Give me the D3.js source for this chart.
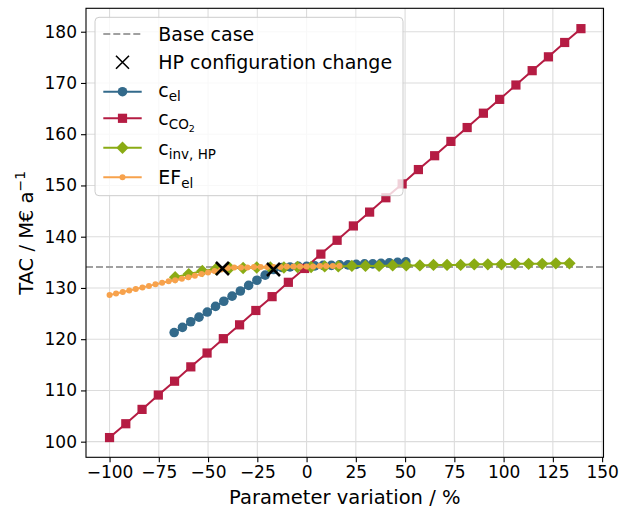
<!DOCTYPE html>
<html>
<head>
<meta charset="utf-8">
<script src="https://cdn.jsdelivr.net/npm/d3@7"></script>
<style>
  body { margin: 0; background: #fff; }
  svg text { font-family: "DejaVu Sans", sans-serif; fill: #000; }
</style>
</head>
<body>
<div id="chart"></div>
<script>
/* --- data --------------------------------------------------------------- */
const baseCase = 134.1;

const celX = [-67.2,-63,-58.8,-54.6,-50.4,-46.2,-42,-37.8,-33.6,-29.4,-25.2,-21,-16.8,-12.6,-8.4,-4.2,0,4.2,8.4,12.6,16.8,21,25.2,29.4,33.6,37.8,42,46.2,50.4];
const celY = [121.3,122.3,123.4,124.3,125.3,126.4,127.4,128.4,129.4,130.5,131.5,132.5,133.6,134.0,134.1,134.2,134.2,134.3,134.4,134.4,134.5,134.5,134.6,134.7,134.7,134.8,134.9,135.0,135.1];

const co2X = [-100,-91.75,-83.5,-75.25,-67,-58.75,-50.5,-42.25,-34,-25.75,-17.5,-9.25,-1,7.25,15.5,23.75,32,40.25,48.5,56.75,65,73.25,81.5,89.75,98,106.25,114.5,122.75,131,139.25];
const co2Y = [100.8,103.5,106.3,109.1,111.8,114.6,117.3,120.1,122.8,125.6,128.3,131.1,133.8,136.6,139.3,142.1,144.8,147.6,150.3,153.1,155.8,158.6,161.3,164.1,166.8,169.6,172.4,175.1,177.9,180.6];

const invX = [-66.7,-59.8,-52.9,-46,-39.1,-32.2,-25.3,-18.4,-11.5,-4.6,2.3,9.2,16.1,23,29.9,36.8,43.7,50.6,57.5,64.4,71.3,78.2,85.1,92,98.9,105.8,112.7,119.6,126.5,133.4];
const invY = [132.1,132.7,133.3,133.7,133.9,133.9,134.0,134.0,134.0,134.1,134.1,134.2,134.2,134.3,134.3,134.3,134.4,134.4,134.4,134.5,134.5,134.5,134.6,134.6,134.6,134.7,134.7,134.7,134.8,134.8];

const efX = [-100,-96.7,-93.3,-90,-86.7,-83.3,-80,-76.7,-73.3,-70,-66.7,-63.3,-60,-56.7,-53.3,-50,-46.7,-43.3,-40,-36.7,-33.3,-30,-26.7,-23.3,-20,-16.7,-13.3,-10,-6.7,-3.3,0,3.3,6.7,10,13.3,16.7];
const efY = [128.6,128.9,129.2,129.5,129.8,130.1,130.4,130.7,131.0,131.3,131.5,131.8,132.1,132.4,132.7,133.0,133.3,133.6,133.9,134.0,134.0,134.0,134.1,134.1,134.1,134.1,134.1,134.2,134.2,134.2,134.2,134.2,134.3,134.3,134.3,134.3];

const hpX = [-42.7, -16.8];
const hpY = [133.8, 133.6];

const xTicks = [-100,-75,-50,-25,0,25,50,75,100,125,150];
const yTicks = [100,110,120,130,140,150,160,170,180];

/* --- layout ------------------------------------------------------------- */
const W = 629, H = 510;
const margin = {top: 8.3, right: 25.5, bottom: 52.7, left: 86};
const plotW = W - margin.left - margin.right;
const plotH = H - margin.top - margin.bottom;

const svg = d3.select("#chart").append("svg").attr("width", W).attr("height", H);
const g = svg.append("g").attr("transform", `translate(${margin.left},${margin.top})`);

const x = d3.scaleLinear().domain([-111.95, 150.7]).range([0, plotW]);
const y = d3.scaleLinear().domain([96.95, 184.57]).range([plotH, 0]);

/* --- grid --------------------------------------------------------------- */
g.append("g").selectAll("line").data(xTicks).join("line")
  .attr("x1", d => x(d)).attr("x2", d => x(d)).attr("y1", 0).attr("y2", plotH)
  .attr("stroke", "#dcdcdc").attr("stroke-width", 1.1);
g.append("g").selectAll("line").data(yTicks).join("line")
  .attr("y1", d => y(d)).attr("y2", d => y(d)).attr("x1", 0).attr("x2", plotW)
  .attr("stroke", "#dcdcdc").attr("stroke-width", 1.1);

/* --- base case ---------------------------------------------------------- */
g.append("line")
  .attr("x1", 0).attr("x2", plotW).attr("y1", y(baseCase)).attr("y2", y(baseCase))
  .attr("stroke", "#a0a0a0").attr("stroke-width", 2).attr("stroke-dasharray", "7,3");

/* --- series ------------------------------------------------------------- */
const series = [
  {name: "cel",  xs: celX, ys: celY, color: "#336a8b", shape: "circle",  size: 4.8},
  {name: "co2",  xs: co2X, ys: co2Y, color: "#b51c43", shape: "square",  size: 4.6},
  {name: "inv",  xs: invX, ys: invY, color: "#8aab14", shape: "diamond", size: 6.2},
  {name: "ef",   xs: efX,  ys: efY,  color: "#f7a24c", shape: "circle",  size: 3}
];

const line = d3.line().x(d => x(d[0])).y(d => y(d[1]));

function drawMarker(sel, shape, size, color) {
  if (shape === "circle") {
    sel.append("circle").attr("r", size).attr("fill", color);
  } else if (shape === "square") {
    sel.append("rect").attr("x", -size).attr("y", -size)
      .attr("width", 2 * size).attr("height", 2 * size).attr("fill", color);
  } else {
    sel.append("path").attr("d", `M0,${-size}L${size},0L0,${size}L${-size},0Z`).attr("fill", color);
  }
}

series.forEach(s => {
  const pts = s.xs.map((v, i) => [v, s.ys[i]]);
  g.append("path").datum(pts)
    .attr("d", line).attr("fill", "none")
    .attr("stroke", s.color).attr("stroke-width", 2);
  g.append("g").selectAll("g").data(pts).join("g")
    .attr("transform", d => `translate(${x(d[0])},${y(d[1])})`)
    .each(function() { drawMarker(d3.select(this), s.shape, s.size, s.color); });
});

/* --- HP configuration change markers ------------------------------------ */
const cross = (sel, r) => sel.append("path")
  .attr("d", `M${-r},${-r}L${r},${r}M${-r},${r}L${r},${-r}`)
  .attr("stroke", "#000").attr("stroke-width", 2.6).attr("fill", "none");
g.append("g").selectAll("g").data(hpX.map((v, i) => [v, hpY[i]])).join("g")
  .attr("transform", d => `translate(${x(d[0])},${y(d[1])})`)
  .each(function() { cross(d3.select(this), 6.5); });

/* --- axes --------------------------------------------------------------- */
const xAxis = g.append("g").attr("transform", `translate(0,${plotH})`)
  .call(d3.axisBottom(x).tickValues(xTicks).tickSize(5).tickPadding(4));
const yAxis = g.append("g")
  .call(d3.axisLeft(y).tickValues(yTicks).tickSize(5).tickPadding(4));
[xAxis, yAxis].forEach(a => {
  a.select(".domain").remove();
  a.selectAll("line").attr("stroke", "#000").attr("stroke-width", 1.1);
  a.selectAll("text").style("font-size", "17px").attr("fill", "#000");
});

g.append("rect").attr("width", plotW).attr("height", plotH)
  .attr("fill", "none").attr("stroke", "#000").attr("stroke-width", 1.1);

svg.append("text")
  .attr("x", margin.left + plotW / 2).attr("y", 504)
  .attr("text-anchor", "middle").style("font-size", "19.5px")
  .text("Parameter variation / %");

const yl = svg.append("text")
  .attr("transform", `translate(33,${margin.top + plotH / 2}) rotate(-90)`)
  .attr("text-anchor", "middle").style("font-size", "19.5px");
yl.append("tspan").text("TAC / M€ a");
yl.append("tspan").attr("dy", -8.5).style("font-size", "14px").text("−1");

/* --- legend ------------------------------------------------------------- */
const lg = svg.append("g");
lg.append("rect")
  .attr("x", 95).attr("y", 17.3).attr("width", 308).attr("height", 178.4).attr("rx", 4)
  .attr("fill", "#fff").attr("fill-opacity", 0.8)
  .attr("stroke", "#cccccc").attr("stroke-width", 1);

const hx0 = 103.3, hx1 = 141.7, hc = (hx0 + hx1) / 2, tx = 158.3;
const rowY = [34, 62.3, 91.7, 118.3, 147.7, 177.3];
const rowBase = [40.7, 69.3, 97.3, 125, 155, 184];

lg.append("line").attr("x1", hx0).attr("x2", hx1).attr("y1", rowY[0]).attr("y2", rowY[0])
  .attr("stroke", "#a0a0a0").attr("stroke-width", 2).attr("stroke-dasharray", "7,3");
lg.append("text").attr("x", tx).attr("y", rowBase[0]).style("font-size", "19px").text("Base case");

cross(lg.append("g").attr("transform", `translate(${hc},${rowY[1]})`), 6.5).attr("stroke-width", 1.6);
lg.append("text").attr("x", tx).attr("y", rowBase[1]).style("font-size", "19px").text("HP configuration change");

series.forEach((s, i) => {
  const ry = rowY[i + 2];
  lg.append("line").attr("x1", hx0).attr("x2", hx1).attr("y1", ry).attr("y2", ry)
    .attr("stroke", s.color).attr("stroke-width", 2);
  drawMarker(lg.append("g").attr("transform", `translate(${hc},${ry})`), s.shape, s.size, s.color);
});

const lab = (i, main) => lg.append("text").attr("x", tx).attr("y", rowBase[i])
  .style("font-size", "19px").text(main);

lab(2, "c").append("tspan").attr("dy", 4).style("font-size", "13.5px").text("el");
const t3 = lab(3, "c");
t3.append("tspan").attr("dy", 4).style("font-size", "13.5px").text("CO");
t3.append("tspan").attr("dy", 3).style("font-size", "9.5px").text("2");
lab(4, "c").append("tspan").attr("dy", 4).style("font-size", "13.5px").text("inv, HP");
lab(5, "EF").append("tspan").attr("dy", 4).style("font-size", "13.5px").text("el");
</script>
</body>
</html>
